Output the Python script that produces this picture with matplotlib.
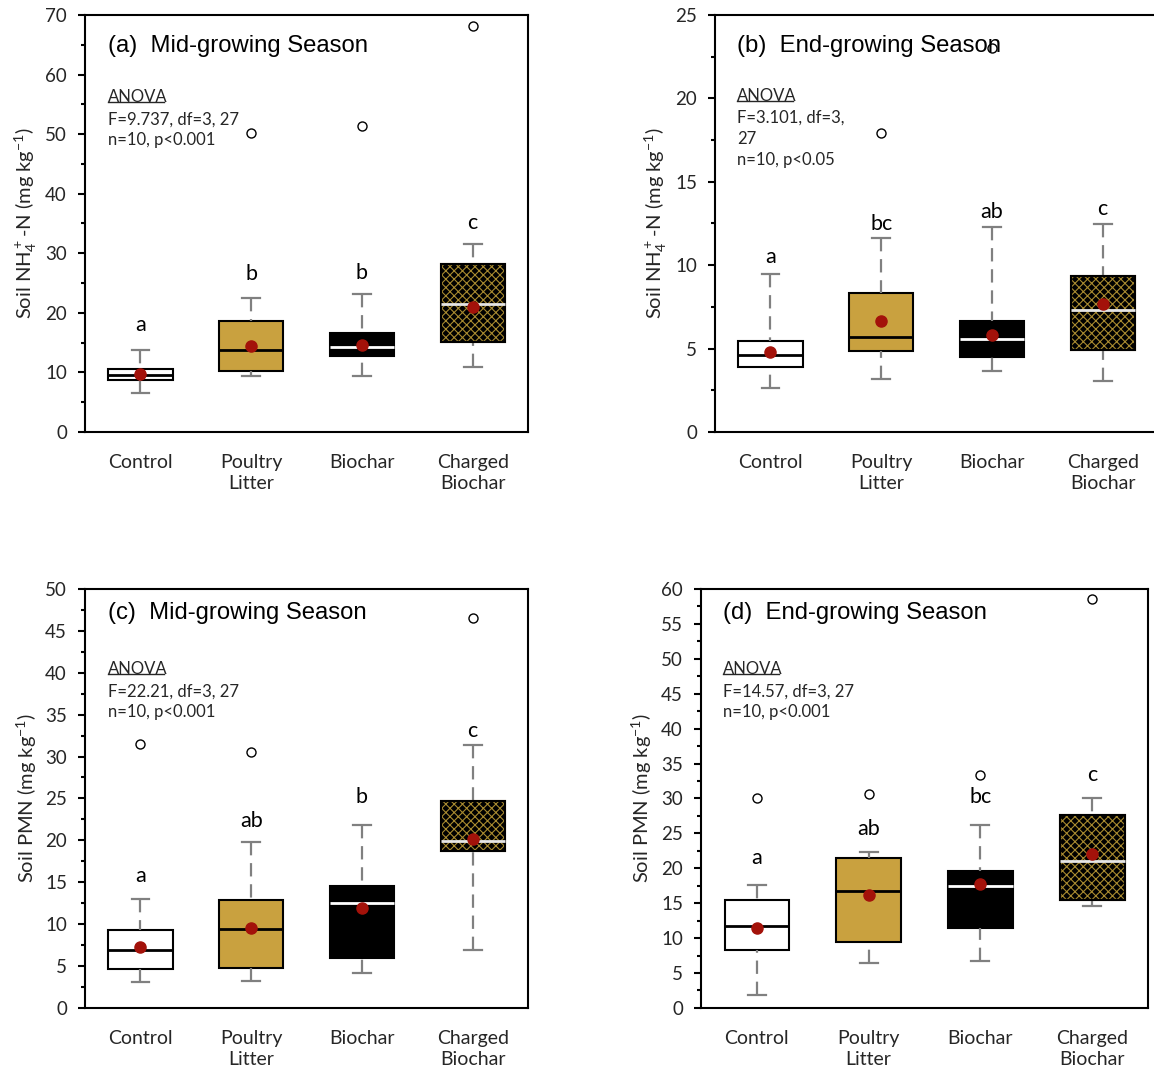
import numpy as np
import matplotlib
matplotlib.use('Agg')
import matplotlib.pyplot as plt
from matplotlib.patches import PathPatch
from matplotlib.ticker import MultipleLocator

plt.rcParams['font.family'] = ['Lato', 'DejaVu Sans']
plt.rcParams['mathtext.default'] = 'regular'
plt.rcParams['hatch.linewidth'] = 0.8

cats = ['Control', 'Poultry\nLitter', 'Biochar', 'Charged\nBiochar']

# (a) soil NH4+-N, mid-growing season
a_low = [6.6, 9.35, 9.35, 10.9]
a_q1 = [8.7, 10.2, 12.8, 15.1]
a_med = [9.5, 13.7, 14.3, 21.4]
a_q3 = [10.6, 18.6, 16.6, 28.2]
a_high = [13.7, 22.5, 23.2, 31.6]
a_mean = [9.7, 14.4, 14.6, 20.9]
a_out = [[], [50.2], [51.3], [68.2]]
a_let = ['a', 'b', 'b', 'c']
a_let_y = [17.9, 26.6, 26.7, 35.0]

# (b) soil NH4+-N, end-growing season
b_low = [2.64, 3.2, 3.64, 3.06]
b_q1 = [3.9, 4.86, 4.5, 4.94]
b_med = [4.6, 5.7, 5.6, 7.3]
b_q3 = [5.46, 8.36, 6.64, 9.34]
b_high = [9.46, 11.6, 12.3, 12.46]
b_mean = [4.8, 6.66, 5.84, 7.7]
b_out = [[], [17.94], [23.04], []]
b_let = ['a', 'bc', 'ab', 'c']
b_let_y = [10.5, 12.46, 13.16, 13.36]

# (c) soil PMN, mid-growing season
c_low = [3.1, 3.2, 4.2, 6.9]
c_q1 = [4.63, 4.75, 5.95, 18.7]
c_med = [6.92, 9.45, 12.55, 19.9]
c_q3 = [9.25, 12.87, 14.6, 24.7]
c_high = [12.95, 19.8, 21.8, 31.4]
c_mean = [7.24, 9.53, 11.87, 20.2]
c_out = [[31.5], [30.5], [], [46.5]]
c_let = ['a', 'ab', 'b', 'c']
c_let_y = [15.7, 22.3, 25.2, 33.0]

# (d) soil PMN, end-growing season
d_low = [1.83, 6.4, 6.76, 14.6]
d_q1 = [8.3, 9.4, 11.4, 15.4]
d_med = [11.8, 16.75, 17.4, 21.1]
d_q3 = [15.5, 21.5, 19.6, 27.6]
d_high = [17.6, 22.4, 26.2, 30.0]
d_mean = [11.4, 16.2, 17.76, 22.0]
d_out = [[30.07], [30.7], [33.4], [58.6]]
d_let = ['a', 'ab', 'bc', 'c']
d_let_y = [21.5, 25.6, 30.2, 33.4]

fills = ['white', '#c9a13f', 'black', 'black']
med_cols = ['black', 'black', 'white', '#e6e6e6']
gold = '#a88a30'
grey = '#808080'
txt = '#262626'

fig = plt.figure(figsize=(11.54, 10.69), dpi=100)

def draw_panel(rect, low, q1, med, q3, high, mean, out, letters, let_y,
               ymax, major, title, title_xy, anova, anova_y, ylabel):
    ax = fig.add_axes(rect)
    stats = []
    for i in range(4):
        stats.append({'label': cats[i], 'whislo': low[i], 'q1': q1[i], 'med': med[i],
                      'q3': q3[i], 'whishi': high[i], 'mean': mean[i],
                      'fliers': np.array(out[i])})
    bp = ax.bxp(stats, positions=[1, 2, 3, 4], widths=0.58, capwidths=0.16,
                patch_artist=True, showmeans=True,
                boxprops=dict(linewidth=1.5, edgecolor='black'),
                whiskerprops=dict(color=grey, linewidth=1.6, linestyle=(0, (6, 3.5))),
                capprops=dict(color=grey, linewidth=1.6),
                medianprops=dict(linewidth=2),
                meanprops=dict(marker='o', markerfacecolor='#a3120a',
                               markeredgecolor='#a3120a', markersize=8),
                flierprops=dict(marker='o', markerfacecolor='white',
                                markeredgecolor='black', markersize=6.5,
                                markeredgewidth=1))
    for i, box in enumerate(bp['boxes']):
        box.set_facecolor(fills[i])
        bp['medians'][i].set_color(med_cols[i])
    # charged biochar: black with gold cross hatch, black border on top
    hb = bp['boxes'][3]
    hb.set_edgecolor(gold)
    hb.set_hatch('xxxx')
    ax.add_patch(PathPatch(hb.get_path(), fill=False, edgecolor='black',
                           linewidth=1.5, zorder=hb.get_zorder() + 0.1))
    for m in bp['medians']:
        m.set_zorder(hb.get_zorder() + 0.2)
    for m in bp['means']:
        m.set_zorder(5)
    # dashes start at the cap end
    for w in bp['whiskers']:
        x, y = w.get_data()
        w.set_data(x[::-1], y[::-1])

    for i in range(4):
        ax.text(i + 1, let_y[i], letters[i], ha='center', va='center', fontsize=15.5)

    ax.set_xlim(0.5, 4.5)
    ax.set_ylim(0, ymax)
    ax.yaxis.set_major_locator(MultipleLocator(major))
    ax.yaxis.set_minor_locator(MultipleLocator(major / 2))
    ax.tick_params(axis='y', which='major', length=5, width=1.5, pad=8,
                   labelsize=13.5, labelcolor=txt)
    ax.tick_params(axis='y', which='minor', length=3, width=1.5)
    ax.tick_params(axis='x', length=0, pad=16, labelsize=14, labelcolor=txt)
    for lab in ax.get_xticklabels():
        lab.set_linespacing(1.3)
    for s in ax.spines.values():
        s.set_linewidth(1.5)
    ax.set_ylabel(ylabel, fontsize=14.5, color=txt)
    ax.yaxis.set_label_coords(-0.105, 0.5)

    ax.text(title_xy[0], title_xy[1], title, transform=ax.transAxes,
            fontsize=17.2, family='Liberation Sans', va='center', ha='left')
    head = ax.text(title_xy[0], anova_y, 'ANOVA', transform=ax.transAxes,
                   fontsize=12, va='top', ha='left', color=txt)
    ax.text(title_xy[0], anova_y - 0.053, anova, transform=ax.transAxes, fontsize=12,
            va='top', ha='left', linespacing=1.38, color=txt)
    return ax, head

nh4_lab = 'Soil NH$_4^+$-N (mg kg$^{-1}$)'
pmn_lab = 'Soil PMN (mg kg$^{-1}$)'

heads = []
heads.append(draw_panel([0.0737, 0.5959, 0.3839, 0.3901], a_low, a_q1, a_med, a_q3,
                        a_high, a_mean, a_out, a_let, a_let_y, 70, 10,
                        '(a)  Mid-growing Season', (0.052, 0.926),
                        'F=9.737, df=3, 27\nn=10, p<0.001', 0.822, nh4_lab))
heads.append(draw_panel([0.6196, 0.5959, 0.3839, 0.3901], b_low, b_q1, b_med, b_q3,
                        b_high, b_mean, b_out, b_let, b_let_y, 25, 5,
                        '(b)  End-growing Season', (0.05, 0.926),
                        'F=3.101, df=3,\n27\nn=10, p<0.05', 0.825, nh4_lab))
heads.append(draw_panel([0.0737, 0.0571, 0.3839, 0.3920], c_low, c_q1, c_med, c_q3,
                        c_high, c_mean, c_out, c_let, c_let_y, 50, 5,
                        '(c)  Mid-growing Season', (0.052, 0.943),
                        'F=22.21, df=3, 27\nn=10, p<0.001', 0.828, pmn_lab))
heads.append(draw_panel([0.6075, 0.0571, 0.3873, 0.3920], d_low, d_q1, d_med, d_q3,
                        d_high, d_mean, d_out, d_let, d_let_y, 60, 5,
                        '(d)  End-growing Season', (0.05, 0.943),
                        'F=14.57, df=3, 27\nn=10, p<0.001', 0.828, pmn_lab))

# underline the ANOVA headers
fig.canvas.draw()
for ax, head in heads:
    bb = head.get_window_extent()
    inv = ax.transAxes.inverted()
    (x0, y0), (x1, _) = inv.transform([(bb.x0, bb.y0 + 3), (bb.x1 - 4, bb.y0 + 3)])
    ax.plot([x0, x1], [y0, y0], transform=ax.transAxes, color=txt,
            linewidth=1, clip_on=False)

fig.savefig('out.png', dpi=100)
